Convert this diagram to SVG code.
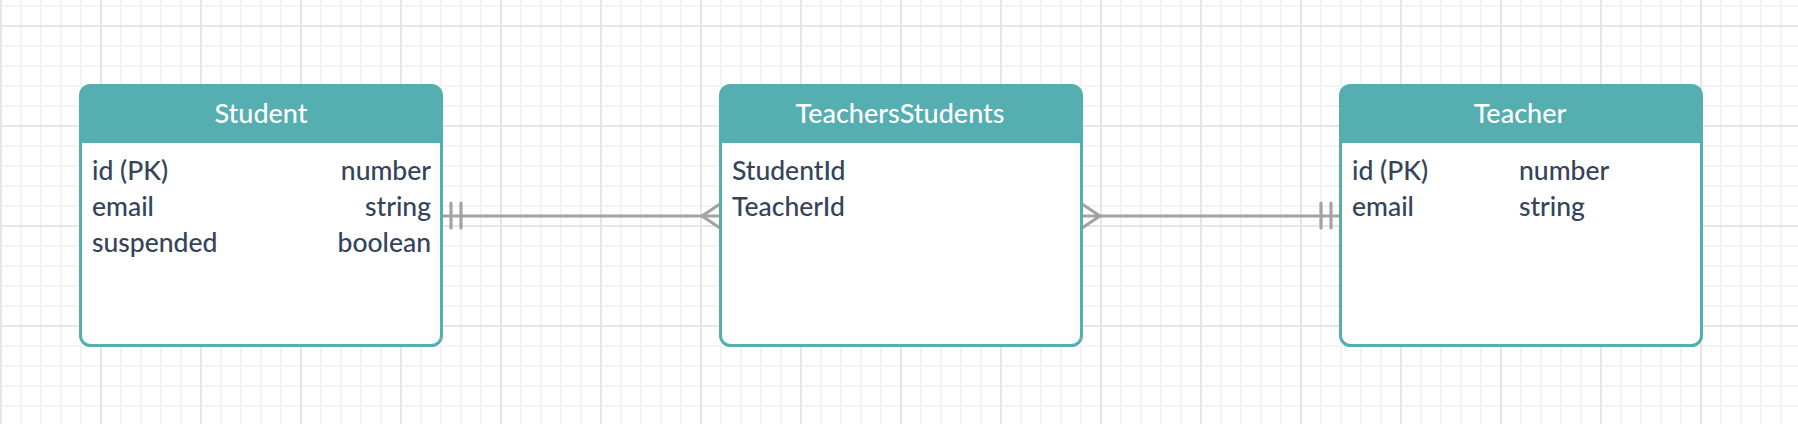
<svg xmlns="http://www.w3.org/2000/svg" width="1798" height="424" viewBox="0 0 1798 424">
<style>
.box{fill:#ffffff;stroke:#55aeaf;stroke-width:3}
.hdr{fill:#55aeaf}
.title{font-family:Lato,"Liberation Sans",sans-serif;font-size:27px;font-weight:500;fill:#ffffff;text-anchor:middle}
.row{font-family:Lato,"Liberation Sans",sans-serif;font-size:26.5px;font-weight:500;fill:#35435b}
.r{text-anchor:end}
.conn{fill:none;stroke:#a3a3a3;stroke-width:3.2;stroke-linecap:round;stroke-linejoin:round}
</style>
<defs>
<pattern id="grid" patternUnits="userSpaceOnUse" x="0" y="25" width="100" height="100">
<rect x="0" y="0" width="100" height="100" fill="#ffffff"/>
<g fill="#f3f3f3">
<rect x="20" y="0" width="2" height="100"/><rect x="40" y="0" width="2" height="100"/><rect x="60" y="0" width="2" height="100"/><rect x="80" y="0" width="2" height="100"/>
<rect x="0" y="20" width="100" height="2"/><rect x="0" y="40" width="100" height="2"/><rect x="0" y="60" width="100" height="2"/><rect x="0" y="80" width="100" height="2"/>
</g>
<g fill="#e6e6e6">
<rect x="0" y="0" width="2" height="100"/><rect x="0" y="0" width="100" height="2"/>
</g>
</pattern>
</defs>
<rect x="0" y="0" width="1798" height="424" fill="url(#grid)"/>

<g id="connectors">
<g id="student-teachersstudents">
<line class="conn" x1="443" y1="216" x2="720" y2="216"/>
<line class="conn" x1="451" y1="203" x2="451" y2="228"/>
<line class="conn" x1="461" y1="203" x2="461" y2="228"/>
<polyline class="conn" points="720,204 702,216 720,228"/>
</g>
<g id="teachersstudents-teacher">
<line class="conn" x1="1082" y1="216" x2="1340" y2="216"/>
<polyline class="conn" points="1082,204 1100,216 1082,228"/>
<line class="conn" x1="1321" y1="203" x2="1321" y2="228"/>
<line class="conn" x1="1331" y1="203" x2="1331" y2="228"/>
</g>
</g>

<g id="student">
<rect class="box" x="80.5" y="85.5" width="361" height="260" rx="10"/>
<path class="hdr" d="M80.5,143 V95.5 A10,10 0 0 1 90.5,85.5 H431.5 A10,10 0 0 1 441.5,95.5 V143 Z"/>
<text class="title" x="261" y="123">Student</text>
<text class="row" x="92" y="180">id (PK)</text>
<text class="row" x="92" y="216">email</text>
<text class="row" x="92" y="252">suspended</text>
<text class="row r" x="431" y="180">number</text>
<text class="row r" x="431" y="216">string</text>
<text class="row r" x="431" y="252">boolean</text>
</g>

<g id="teachersstudents">
<rect class="box" x="720.5" y="85.5" width="361" height="260" rx="10"/>
<path class="hdr" d="M720.5,143 V95.5 A10,10 0 0 1 730.5,85.5 H1071.5 A10,10 0 0 1 1081.5,95.5 V143 Z"/>
<text class="title" x="900" y="123">TeachersStudents</text>
<text class="row" x="732" y="180">StudentId</text>
<text class="row" x="732" y="216">TeacherId</text>
</g>

<g id="teacher">
<rect class="box" x="1340.5" y="85.5" width="361" height="260" rx="10"/>
<path class="hdr" d="M1340.5,143 V95.5 A10,10 0 0 1 1350.5,85.5 H1691.5 A10,10 0 0 1 1701.5,95.5 V143 Z"/>
<text class="title" x="1520" y="123">Teacher</text>
<text class="row" x="1352" y="180">id (PK)</text>
<text class="row" x="1352" y="216">email</text>
<text class="row" x="1519" y="180">number</text>
<text class="row" x="1519" y="216">string</text>
</g>
</svg>
